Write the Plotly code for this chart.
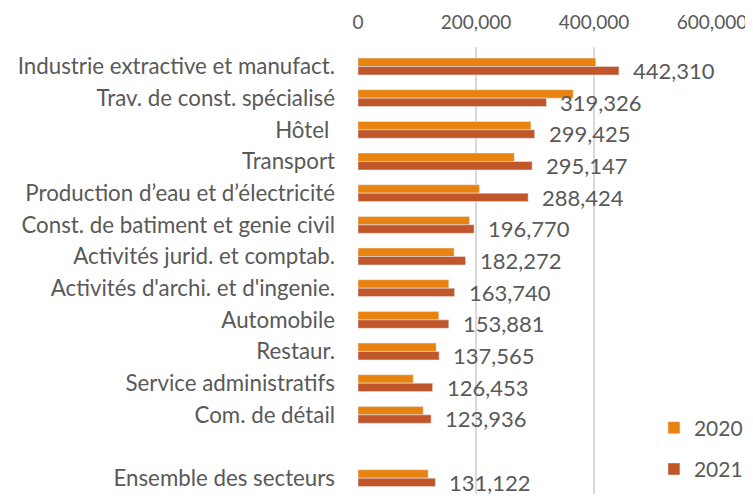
import plotly.graph_objects as go

categories = [
    "Industrie extractive et manufact.",
    "Trav. de const. spécialisé",
    "Hôtel ",
    "Transport",
    "Production d’eau et d’électricité",
    "Const. de batiment et genie civil",
    "Activités jurid. et comptab.",
    "Activités d'archi. et d'ingenie.",
    "Automobile",
    "Restaur.",
    "Service administratifs",
    "Com. de détail",
    " ",
    "Ensemble des secteurs",
]
values_2020 = [403000, 364700, 293100, 265000, 205800, 188900, 162900, 153900,
               137000, 132500, 93600, 110500, None, 118900]
values_2021 = [442310, 319326, 299425, 295147, 288424, 196770, 182272, 163740,
               153881, 137565, 126453, 123936, None, 131122]
x_ticks = [0, 200000, 400000, 600000]

FONT = "Lato"
GREY = "#595959"
C2020 = "#E8830F"
C2021 = "#C0562A"

fig = go.Figure()
fig.add_trace(go.Bar(y=categories, x=values_2020, orientation="h", name="2020",
                     marker=dict(color=C2020), legendgroup="a"))
fig.add_trace(go.Bar(y=categories, x=values_2021, orientation="h", name="2021",
                     marker=dict(color=C2021), legendgroup="b"))

for c, v in zip(categories, values_2021):
    if v is None:
        continue
    fig.add_annotation(x=v, y=c, text=f"{v:,}", showarrow=False,
                       xanchor="left", yanchor="middle", xshift=12, yshift=-4,
                       font=dict(family=FONT, size=22, color=GREY))

# page body has an 8px default margin, so the figure is 8px smaller
fig.update_layout(
    width=745, height=488,
    margin=dict(l=349.5, r=40.7, t=39, b=2, autoexpand=False),
    paper_bgcolor="white", plot_bgcolor="white",
    barmode="group", bargap=0.467, bargroupgap=0,
    font=dict(family=FONT, color=GREY),
    legend=dict(x=0.836, y=0.01, xanchor="left", yanchor="bottom",
                font=dict(family=FONT, size=21, color=GREY),
                tracegroupgap=11, bgcolor="rgba(0,0,0,0)",
                itemwidth=30),
    xaxis=dict(side="top", range=[0, 600000], tickvals=x_ticks,
               ticktext=[f"{t:,}" for t in x_ticks], automargin=False,
               showgrid=True, gridcolor="#D9D9D9", gridwidth=2,
               zeroline=False, showline=False, ticklabelstandoff=13,
               tickfont=dict(family=FONT, size=19, color=GREY)),
    yaxis=dict(type="category", categoryorder="array", categoryarray=categories,
               autorange="reversed", showgrid=False, zeroline=False, showline=False,
               ticklabelstandoff=22, automargin=False,
               tickfont=dict(family=FONT, size=22.3, color=GREY)),
)

fig.write_html("out.html")
